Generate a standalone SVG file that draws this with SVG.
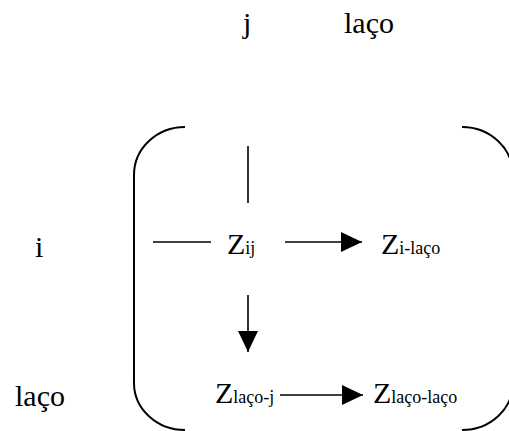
<svg xmlns="http://www.w3.org/2000/svg" width="509" height="431" viewBox="0 0 509 431">
<style>
text{font-family:"Liberation Serif","Times New Roman",serif;fill:#000}
.big{font-size:30px}
.z{font-size:30px}
.sub{font-size:18px}
.ln{stroke:#000;stroke-width:1.6;fill:none}
.br{stroke:#000;stroke-width:2;fill:none}
</style>
<defs>
<marker id="ah" markerUnits="userSpaceOnUse" markerWidth="22" markerHeight="22" refX="21" refY="10" orient="auto">
<path d="M0,0 L21,10 L0,20 Z" fill="#000"/>
</marker>
</defs>
<rect width="509" height="431" fill="#fff"/>
<g id="labels">
<text class="big" x="243" y="33">j</text>
<text class="big" x="344" y="33">laço</text>
<text class="big" x="35" y="257">i</text>
<text class="big" x="15" y="406">laço</text>
</g>
<g id="brackets">
<path class="br" d="M185,127 A51,48 0 0 0 134,175 L134,383 A51,47 0 0 0 185,430"/>
<path class="br" d="M462,127 A51,48 0 0 1 513,175 L513,383 A51,47 0 0 1 462,430"/>
</g>
<g id="n-zij"><text x="227" y="254"><tspan class="z">Z</tspan><tspan class="sub">ij</tspan></text></g>
<g id="n-zilaco"><text x="381" y="254"><tspan class="z">Z</tspan><tspan class="sub">i-laço</tspan></text></g>
<g id="n-zlacoj"><text x="215" y="403"><tspan class="z">Z</tspan><tspan class="sub">laço-j</tspan></text></g>
<g id="n-zlacolaco"><text x="373" y="403"><tspan class="z">Z</tspan><tspan class="sub">laço-laço</tspan></text></g>
<g id="connectors">
<line class="ln" x1="248" y1="146" x2="248" y2="203"/>
<line class="ln" x1="153" y1="242" x2="211" y2="242"/>
<line class="ln" x1="285" y1="242" x2="362" y2="242" marker-end="url(#ah)"/>
<line class="ln" x1="248" y1="295" x2="248" y2="352" marker-end="url(#ah)"/>
<line class="ln" x1="280" y1="395" x2="363" y2="395" marker-end="url(#ah)"/>
</g>
</svg>
